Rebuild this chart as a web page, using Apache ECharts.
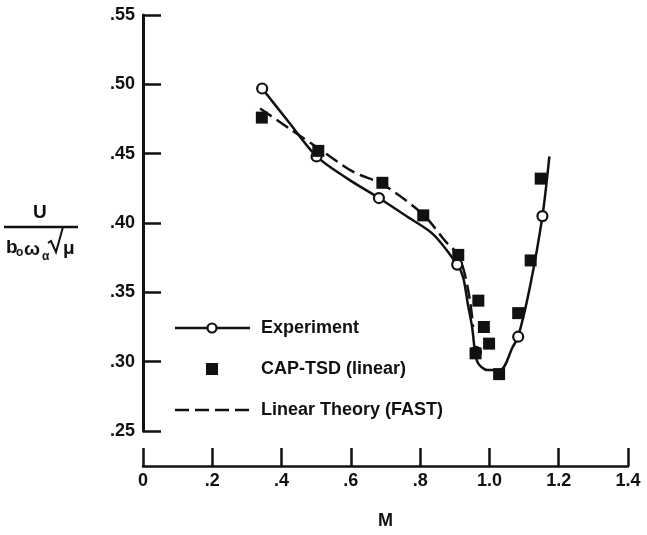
<!DOCTYPE html>
<html>
<head>
<meta charset="utf-8">
<script src="https://cdn.jsdelivr.net/npm/echarts@6/dist/echarts.min.js"></script>
<style>
  html, body { margin: 0; padding: 0; background: #fff; }
  #chart { width: 647px; height: 535px; }
</style>
</head>
<body>
<div id="chart"></div>
<script>
// Experiment: faired curve
const expCurveM = [0.344, 0.42, 0.501, 0.59, 0.681, 0.76, 0.837, 0.907, 0.924, 0.938, 0.950, 0.958, 0.967, 0.993, 1.031, 1.068, 1.083, 1.117, 1.153, 1.173]
const expCurveU = [0.497, 0.473, 0.448, 0.432, 0.418, 0.405, 0.392, 0.370, 0.361, 0.341, 0.325, 0.308, 0.299, 0.294, 0.294, 0.311, 0.318, 0.354, 0.405, 0.448]
// Experiment: measured points (open circles)
const expM = [0.344, 0.501, 0.681, 0.907, 0.961, 1.083, 1.153]
const expU = [0.497, 0.448, 0.418, 0.370, 0.307, 0.318, 0.405]
// CAP-TSD (linear): filled squares
const capM = [0.343, 0.506, 0.691, 0.809, 0.910, 0.960, 0.968, 0.984, 0.999, 1.028, 1.083, 1.119, 1.148]
const capU = [0.476, 0.452, 0.429, 0.4055, 0.377, 0.306, 0.344, 0.325, 0.313, 0.291, 0.335, 0.373, 0.432]
// Linear Theory (FAST): dashed curve
const linM = [0.338, 0.42, 0.501, 0.606, 0.691, 0.809, 0.876, 0.910, 0.930, 0.945, 0.953]
const linU = [0.4826, 0.4685, 0.4548, 0.437, 0.428, 0.406, 0.386, 0.377, 0.362, 0.342, 0.325]

const legendNames = ['Experiment', 'CAP-TSD (linear)', 'Linear Theory (FAST)']

const ink = '#111'
const font = 'Liberation Sans, Arial, sans-serif'

function pairs(xs, ys) {
  return xs.map((x, i) => [x, ys[i]])
}

// hand-made legend (keys drawn like the original figure)
const legendX = 175, legendY = 328, legendStep = 41
const legendGraphics = [
  { type: 'line', shape: { x1: legendX, y1: legendY, x2: legendX + 75, y2: legendY }, style: { stroke: ink, lineWidth: 2.5 } },
  { type: 'circle', shape: { cx: legendX + 37, cy: legendY, r: 4.5 }, style: { fill: '#fff', stroke: ink, lineWidth: 2.2 }, z: 101 },
  { type: 'rect', shape: { x: legendX + 31, y: legendY + legendStep - 6, width: 12, height: 12 }, style: { fill: ink } },
  { type: 'line', shape: { x1: legendX, y1: legendY + 2 * legendStep, x2: legendX + 75, y2: legendY + 2 * legendStep }, style: { stroke: ink, lineWidth: 2.5, lineDash: [14, 6] } }
]
legendNames.forEach((name, i) => {
  legendGraphics.push({
    type: 'text',
    x: legendX + 86,
    y: legendY + i * legendStep,
    style: { text: name, fill: ink, font: 'bold 18px ' + font, verticalAlign: 'middle' }
  })
})

const chart = echarts.init(document.getElementById('chart'))
chart.setOption({
  backgroundColor: '#fff',
  animation: false,
  grid: { left: 143, top: 15, width: 485, height: 420 },
  xAxis: {
    type: 'value',
    min: 0,
    max: 1.4,
    interval: 0.2,
    offset: 35,
    name: 'M',
    nameLocation: 'middle',
    nameGap: 46,
    nameTextStyle: { color: ink, fontFamily: font, fontWeight: 'bold', fontSize: 18 },
    axisLine: { onZero: false, lineStyle: { color: ink, width: 2.5 } },
    axisTick: { inside: true, length: 18, lineStyle: { color: ink, width: 2.5 } },
    axisLabel: {
      margin: 6,
      color: ink,
      fontFamily: font,
      fontWeight: 'bold',
      fontSize: 18,
      formatter: function (v) {
        if (v === 0) return '0'
        return v < 1 ? v.toFixed(1).replace(/^0/, '') : v.toFixed(1)
      }
    },
    splitLine: { show: false }
  },
  yAxis: {
    type: 'value',
    min: 0.25,
    max: 0.55,
    interval: 0.05,
    axisLine: { show: true, onZero: false, lineStyle: { color: ink, width: 3 } },
    axisTick: { show: true, inside: true, length: 18, lineStyle: { color: ink, width: 2.5 } },
    axisLabel: {
      margin: 8,
      color: ink,
      fontFamily: font,
      fontWeight: 'bold',
      fontSize: 18,
      formatter: function (v) { return v.toFixed(2).replace(/^0/, '') }
    },
    splitLine: { show: false }
  },
  graphic: [
    { type: 'text', left: 33, top: 203, style: { text: 'U', fill: ink, font: 'bold 19px ' + font } },
    { type: 'line', shape: { x1: 4, y1: 227, x2: 78, y2: 227 }, style: { stroke: ink, lineWidth: 2.5 } },
    { type: 'text', left: 6, top: 238, style: { text: 'b', fill: ink, font: 'bold 19px ' + font } },
    { type: 'text', left: 16, top: 247, style: { text: 'o', fill: ink, font: 'bold 12px ' + font } },
    { type: 'text', left: 24, top: 240, style: { text: 'ω', fill: ink, font: 'bold 19px ' + font } },
    { type: 'text', left: 42, top: 251, style: { text: 'α', fill: ink, font: 'bold 12px ' + font } },
    { type: 'polyline', shape: { points: [[48, 243], [51, 241], [56, 252], [63, 227]] }, style: { stroke: ink, fill: null, lineWidth: 2 } },
    { type: 'text', left: 63, top: 239, style: { text: 'μ', fill: ink, font: 'bold 19px ' + font } }
  ].concat(legendGraphics),
  series: [
    {
      name: legendNames[0],
      type: 'line',
      data: pairs(expCurveM, expCurveU),
      smooth: 0.3,
      symbol: 'none',
      lineStyle: { color: ink, width: 2.5 },
      z: 2
    },
    {
      name: legendNames[2],
      type: 'line',
      data: pairs(linM, linU),
      smooth: 0.3,
      symbol: 'none',
      lineStyle: { color: ink, width: 2.5, type: [14, 6] },
      z: 2
    },
    {
      name: legendNames[0] + ' points',
      type: 'scatter',
      data: pairs(expM, expU),
      symbol: 'circle',
      symbolSize: 10,
      itemStyle: { color: '#fff', borderColor: ink, borderWidth: 2.2, opacity: 1 },
      z: 3
    },
    {
      name: legendNames[1],
      type: 'scatter',
      data: pairs(capM, capU),
      symbol: 'rect',
      symbolSize: 12,
      itemStyle: { color: ink, opacity: 1 },
      z: 4
    }
  ]
})
</script>
</body>
</html>
